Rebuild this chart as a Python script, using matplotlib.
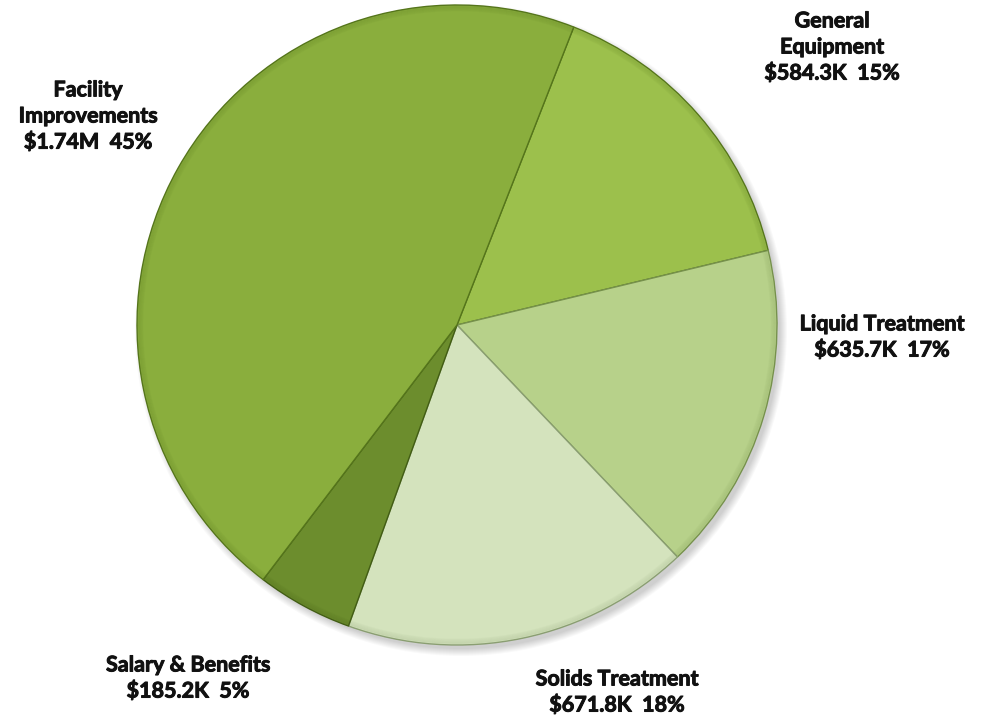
import numpy as np
import matplotlib.pyplot as plt
import matplotlib.patheffects as pe
from matplotlib.patches import Circle, Wedge

# spending by category, in thousands of dollars (clockwise from the top)
categories = ["General\nEquipment", "Liquid Treatment", "Solids Treatment",
              "Salary & Benefits", "Facility\nImprovements"]
amounts = [584.3, 635.7, 671.8, 185.2, 1740.0]
amount_labels = ["$584.3K", "$635.7K", "$671.8K", "$185.2K", "$1.74M"]
pct_labels = ["15%", "17%", "18%", "5%", "45%"]

colors = ["#9cc04c", "#b7d18a", "#d4e3bd", "#6c8d2d", "#8aae3d"]
edges = ["#56761c", "#76914c", "#8a9e72", "#425d14", "#55751b"]

W, H = 995, 719
cx, cy, R = 457, H - 325, 320

fig = plt.figure(figsize=(W / 100, H / 100), dpi=100)
ax = fig.add_axes([0, 0, 1, 1])

# soft drop shadow under the pie
for k in range(8):
    ax.add_patch(Circle((cx + 4, cy - 5), R + 6 - k, color="#000000",
                        alpha=0.025, lw=0, zorder=0))

wedges, _ = ax.pie(amounts, colors=colors, startangle=68.6, counterclock=False,
                   center=(cx, cy), radius=R, frame=True,
                   wedgeprops=dict(linewidth=1.0))
for w, ec in zip(wedges, edges):
    w.set_edgecolor(ec)

# darker rim near the outer edge of each slice
for w, ec in zip(wedges, edges):
    for k in range(5):
        ax.add_patch(Wedge((cx, cy), R - 1 - k, w.theta1, w.theta2, width=1.2,
                           color=ec, alpha=0.18 - 0.03 * k, lw=0))

ax.set_xlim(0, W)
ax.set_ylim(0, H)
ax.set_aspect("equal")
ax.axis("off")

# label positions (text centres, pixels from top)
label_pos = [(832, 47), (882, 337), (617, 692), (188, 678), (88, 116)]
for name, amt, pct, (lx, ly) in zip(categories, amount_labels, pct_labels, label_pos):
    ax.text(lx, H - ly, f"{name}\n{amt}  {pct}", ha="center", va="center",
            fontsize=15.5, fontweight="bold", family=["Lato", "DejaVu Sans"],
            color="#111111", linespacing=1.3,
            path_effects=[pe.withStroke(linewidth=0.7, foreground="#111111")])

fig.savefig("out.png", dpi=100, facecolor="white")
